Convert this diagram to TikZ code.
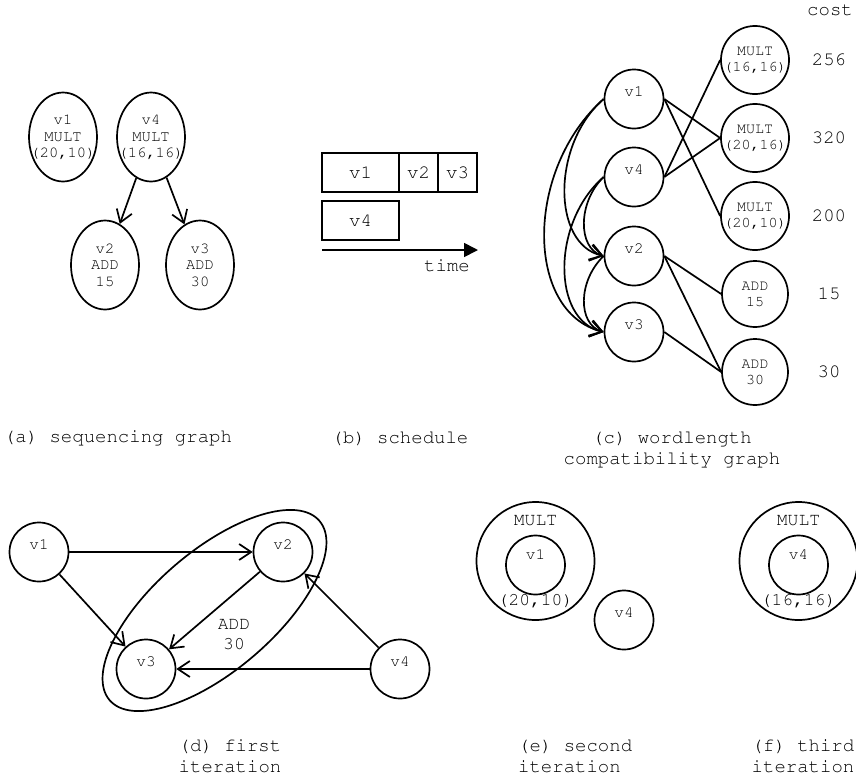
\documentclass[tikz,border=0pt]{standalone}
\usepackage[T1]{fontenc}
\usepackage{courier}
\usetikzlibrary{arrows.meta,shapes.geometric}
\begin{document}
\begin{tikzpicture}[x=1pt,y=-1pt,line width=1.7pt,
    every node/.style={font=\ttfamily\fontsize{19}{21}\selectfont},
    arr/.style={-{Straight Barb[length=12pt,width=16pt]}},
    opnode/.style={draw,ellipse,minimum width=68,minimum height=89,inner xsep=-14pt,
      inner ysep=0pt,align=center,font=\ttfamily\fontsize{15.5}{16.5}\selectfont},
    raised/.style={inner ysep=-4pt,execute at end node={\\[-1pt]\mbox{}}},
    vnode/.style={draw,circle,minimum size=59,inner sep=0pt,text height=11pt,
      text depth=17pt,font=\ttfamily\fontsize{16}{18}\selectfont},
    wnode/.style={draw,circle,minimum size=66,inner sep=0pt,align=center,
      font=\ttfamily\fontsize{15}{16}\selectfont},
    slot/.style={draw,minimum height=39,inner sep=0pt},
    wlgroup/.style={draw,circle,minimum size=118,inner sep=0pt}]
    \useasboundingbox (0,0) rectangle (856,782);

    \begin{scope}
      \node[opnode,raised] (a1) at (63,137) {v1\\MULT\\(20,10)};
      \node[opnode,raised] (a4) at (151,137) {v4\\MULT\\(16,16)};
      \node[opnode] (a2) at (105,265) {v2\\ADD\\15};
      \node[opnode] (a3) at (200,265) {v3\\ADD\\30};
      \draw[arr] (a4) -- (a2);
      \draw[arr] (a4) -- (a3);
      \node (capa) at (118,438) {(a) sequencing graph};
    \end{scope}

    \begin{scope}
      \node[slot,minimum width=77] (s1) at (360.5,172.5) {v1};
      \node[slot,minimum width=39] (s2) at (418.5,172.5) {v2};
      \node[slot,minimum width=39] (s3) at (457.5,172.5) {v3};
      \node[slot,minimum width=77] (s4) at (360.5,220.5) {v4};
      \coordinate (t0) at (322,250);
      \coordinate (t1) at (478,250);
      \draw[-{Triangle[length=14pt,width=14pt]}] (t0) -- (t1);
      \node (time) at (447,266) {time};
      \node (capb) at (400,438) {(b) schedule};
    \end{scope}

    \begin{scope}
      \node[vnode] (c1) at (634,99) {v1};
      \node[vnode] (c4) at (634,177) {v4};
      \node[vnode] (c2) at (634,256) {v2};
      \node[vnode] (c3) at (634,332) {v3};
      \node[wnode] (w1) at (755,60) {MULT\\(16,16)};
      \node[wnode] (w2) at (755,138) {MULT\\(20,16)};
      \node[wnode] (w3) at (755,216) {MULT\\(20,10)};
      \node[wnode] (w4) at (755,294) {ADD\\15};
      \node[wnode] (w5) at (755,372) {ADD\\30};
      \node (cost) at (830,10) {cost};
      \node (k1) at (829,60) {256};
      \node (k2) at (829,138) {320};
      \node (k3) at (829,216) {200};
      \node (k4) at (829,294) {15};
      \node (k5) at (829,372) {30};
      \draw (c1.east) -- (w2.west);
      \draw (c1.east) -- (w3.west);
      \draw (c4.east) -- (w1.west);
      \draw (c4.east) -- (w2.west);
      \draw (c2.east) -- (w4.west);
      \draw (c2.east) -- (w5.west);
      \draw (c3.east) -- (w5.west);
      \draw[arr] (c1.west) .. controls +(-52,45) and +(-52,-12) .. (c2.west);
      \draw[arr] (c1.west) .. controls +(-79,70) and +(-79,-20) .. (c3.west);
      \draw[arr] (c4.west) .. controls +(-26,25) and +(-26,-8) .. (c2.west);
      \draw[arr] (c4.west) .. controls +(-52,45) and +(-52,-12) .. (c3.west);
      \draw[arr] (c2.west) .. controls +(-26,25) and +(-26,-8) .. (c3.west);
      \node[align=center] (capc) at (672,449) {(c) wordlength\\compatibility graph};
    \end{scope}

    \begin{scope}
      \node[vnode] (d1) at (39,552) {v1};
      \node[vnode] (d2) at (283,552) {v2};
      \node[vnode] (d3) at (146,669) {v3};
      \node[vnode] (d4) at (400,669) {v4};
      \draw[rotate around={40.5:(214.5,610.5)}] (214.5,610.5) ellipse (138 and 60);
      \node[align=center,font=\ttfamily\fontsize{18}{20}\selectfont] (add) at (234,635) {ADD\\30};
      \draw[arr] (d1) -- (d2);
      \draw[arr] (d1) -- (d3);
      \draw[arr] (d2) -- (d3);
      \draw[arr] (d4) -- (d3);
      \draw[arr] (d4) -- (d2);
      \node[align=center] (capd) at (230,756) {(d) first\\iteration};
    \end{scope}

    \begin{scope}[every node/.append style={font=\ttfamily\fontsize{18}{20}\selectfont}]
      \node[wlgroup] (g1) at (535.5,561) {};
      \node (g1t) at (535.5,521) {MULT};
      \node (g1b) at (535.5,601) {(20,10)};
      \node[vnode,text depth=22pt] (e1) at (535.5,565) {v1};
      \node[vnode] (e4) at (624,620) {v4};
      \node[wlgroup] (g2) at (798.5,561) {};
      \node (g2t) at (798.5,521) {MULT};
      \node (g2b) at (798.5,601) {(16,16)};
      \node[vnode,text depth=22pt] (f4) at (798.5,565) {v4};
    \end{scope}

    \node[align=left,anchor=west] (cape) at (514,756) {(e) second\\iteration};
    \node[align=center] (capf) at (803,756) {(f) third\\iteration};
  \end{tikzpicture}
\end{document}
